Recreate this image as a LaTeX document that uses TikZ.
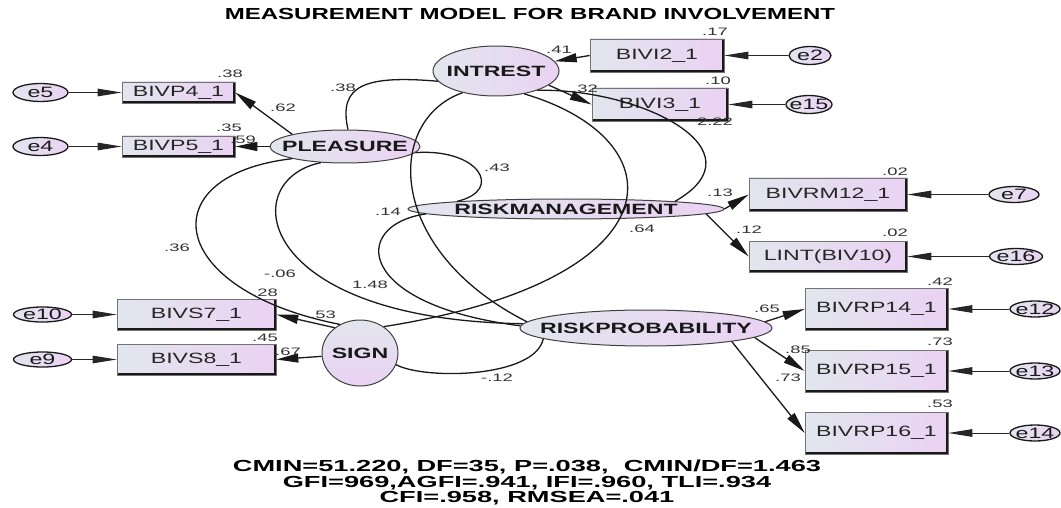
\documentclass[tikz,border=0pt]{standalone}
\usepackage{fontspec}
\setmainfont{Liberation Sans}
\newfontfamily\wfont[FakeStretch=1.7]{Liberation Sans}
\newfontfamily\vfont[FakeStretch=1.55]{Liberation Sans}
\newfontfamily\tfont[FakeStretch=1.5]{Liberation Sans}
\usetikzlibrary{arrows.meta,shapes.geometric}
\definecolor{cl}{RGB}{226,230,238}
\definecolor{cr}{RGB}{234,210,243}
\newcommand{\zb}[1]{\makebox[0pt]{#1}}
\begin{document}
\begin{tikzpicture}[x=1pt,y=-1pt,
 obs/.style={rectangle, draw=black!55, line width=0.6pt, left color=cl, right color=cr, inner sep=0pt,
   font=\vfont\fontsize{14.9}{16}\selectfont, text=black!85,
   path picture={\draw[line width=3.4pt,black!90] (path picture bounding box.north east) -- (path picture bounding box.south east) -- (path picture bounding box.south west);}},
 lat/.style={ellipse, draw=black!75, line width=1pt, left color=cl, right color=cr, inner sep=0pt,
   font=\vfont\bfseries\fontsize{14.9}{16}\selectfont, text=black!90},
 err/.style={ellipse, draw=black!90, line width=1.3pt, left color=cl, right color=cr, inner sep=0pt,
   font=\vfont\fontsize{15}{16}\selectfont, text=black!90},
 coef/.style={font=\wfont\fontsize{10.8}{11}\selectfont, inner sep=0pt, text=black!80},
 load/.style={line width=1.3pt, black!90, -{Triangle[length=22pt,width=9pt]}},
 eline/.style={line width=1pt, black!85, -{Triangle[length=24pt,width=7.5pt]}},
 cov/.style={line width=1.3pt, black!90},
]
\path[fill=white, use as bounding box] (0,0) rectangle (1061,508);

% title
\node[font=\tfont\bfseries\fontsize{16}{18}\selectfont] (title) at (530,14) {MEASUREMENT MODEL FOR BRAND INVOLVEMENT};

% observed variables
\node[obs, minimum width=113pt, minimum height=21pt] (p4) at (178.5,92.5) {BIVP4\_1};
\node[obs, minimum width=113pt, minimum height=21pt] (p5) at (178.5,146.5) {BIVP5\_1};
\node[obs, minimum width=134pt, minimum height=33pt] (i2) at (657,55.5) {BIVI2\_1};
\node[obs, minimum width=136pt, minimum height=33pt] (i3) at (660,104.5) {BIVI3\_1};
\node[obs, minimum width=158pt, minimum height=33pt] (rm12) at (828,194.5) {BIVRM12\_1};
\node[obs, minimum width=158pt, minimum height=31pt] (lint) at (828,256.5) {LINT(BIV10)};
\node[obs, minimum width=143pt, minimum height=42pt] (rp14) at (876.5,309) {BIVRP14\_1};
\node[obs, minimum width=143pt, minimum height=42pt] (rp15) at (876.5,371) {BIVRP15\_1};
\node[obs, minimum width=143pt, minimum height=42pt] (rp16) at (876.5,433) {BIVRP16\_1};
\node[obs, minimum width=159pt, minimum height=31pt] (s7) at (196.5,314.5) {BIVS7\_1};
\node[obs, minimum width=159pt, minimum height=31pt] (s8) at (196.5,359.5) {BIVS8\_1};

% latent variables
\node[lat, minimum width=126pt, minimum height=50pt] (in) at (496,71) {\zb{INTREST}};
\node[lat, minimum width=150pt, minimum height=33pt] (pl) at (345,146.5) {\zb{PLEASURE}};
\node[lat, minimum width=316pt, minimum height=20pt] (rm) at (566,209) {\zb{RISKMANAGEMENT}};
\node[lat, minimum width=252pt, minimum height=36pt] (rp) at (646,328) {\zb{RISKPROBABILITY}};
\node[lat, top color=cl, bottom color=cr, minimum width=76pt, minimum height=66pt] (sg) at (360,353) {\zb{SIGN}};

% error terms
\node[err, minimum width=55pt, minimum height=18pt] (e5) at (40.5,92.5) {\zb{e5}};
\node[err, minimum width=55pt, minimum height=18pt] (e4) at (40.5,146.5) {\zb{e4}};
\node[err, minimum width=42pt, minimum height=18pt] (e2) at (810,55.5) {\zb{e2}};
\node[err, minimum width=46pt, minimum height=18pt] (e15) at (809,104.5) {\zb{e15}};
\node[err, minimum width=50pt, minimum height=16pt] (e7) at (1014,194.5) {\zb{e7}};
\node[err, minimum width=53pt, minimum height=16pt] (e16) at (1016,256.5) {\zb{e16}};
\node[err, minimum width=50pt, minimum height=16pt] (e12) at (1035,309) {\zb{e12}};
\node[err, minimum width=50pt, minimum height=16pt] (e13) at (1035,371) {\zb{e13}};
\node[err, minimum width=50pt, minimum height=16pt] (e14) at (1035,433) {\zb{e14}};
\node[err, minimum width=58pt, minimum height=15pt] (e10) at (42.5,314.5) {\zb{e10}};
\node[err, minimum width=58pt, minimum height=15pt] (e9) at (42.5,359.5) {\zb{e9}};

% error arrows
\draw[eline] (e5) -- (p4);
\draw[eline] (e4) -- (p5);
\draw[eline] (e2) -- (i2);
\draw[eline] (e15) -- (i3);
\draw[eline] (e7) -- (rm12);
\draw[eline] (e16) -- (lint);
\draw[eline] (e12) -- (rp14);
\draw[eline] (e13) -- (rp15);
\draw[eline] (e14) -- (rp16);
\draw[eline] (e10) -- (s7);
\draw[eline] (e9) -- (s8);

% loadings
\draw[load] (pl.167) -- (p4.east);
\draw[load] (pl) -- (p5);
\draw[load] (i2.west) -- (in);
\draw[load] (in.345) -- (i3.west);
\draw[load] (rm.east) -- (rm12.west);
\draw[load] (rm.-2) -- (lint.west);
\draw[load] (rp.3) -- (rp14.west);
\draw[load] (rp.-5) -- (rp15.west);
\draw[load] (rp.-9) -- (rp16.west);
\draw[load] (sg.135) -- (s7.east);
\draw[load] (sg.185) -- (s8.east);

% covariances
\draw[cov] (pl.80) .. controls (338,85) and (365,75) .. (in.190);
\draw[cov] (pl.-5) .. controls (478,148) and (505,190) .. (rm.176);
\draw[cov] (in.335) .. controls (640,88) and (765,150) .. (rm.4);
\draw[cov] (in.321) .. controls (680,140) and (680,280) .. (sg.48);
\draw[cov] (in.213) .. controls (385,120) and (385,250) .. (rp.177);
\draw[cov] (rm.182) .. controls (350,225) and (355,305) .. (rp.179);
\draw[cov] (pl.193) .. controls (150,175) and (165,290) .. (sg.125);
\draw[cov] (pl.214) .. controls (235,180) and (255,320) .. (rp.178);
\draw[cov] (sg.-18) .. controls (425,380) and (535,378) .. (rp.186);

% coefficients
\node[coef] (k1) at (230,74) {.38};
\node[coef] (k2) at (229,128) {.35};
\node[coef] (k3) at (243,140) {.59};
\node[coef] (k4) at (283,108) {.62};
\node[coef] (k5) at (343,88) {.38};
\node[coef] (k6) at (559,50) {.41};
\node[coef] (k7) at (715,32) {.17};
\node[coef] (k8) at (585,89) {.32};
\node[coef] (k9) at (718,81) {.10};
\node[coef] (k10) at (715,122) {2.22};
\node[coef] (k11) at (497,168) {.43};
\node[coef] (k12) at (388,212) {.14};
\node[coef] (k13) at (642,229) {.64};
\node[coef] (k14) at (720,193) {.13};
\node[coef] (k15) at (749,230) {.12};
\node[coef] (k16) at (895,172) {.02};
\node[coef] (k17) at (895,233) {.02};
\node[coef] (k18) at (940,282) {.42};
\node[coef] (k19) at (940,342) {.73};
\node[coef] (k20) at (940,404) {.53};
\node[coef] (k21) at (767,309) {.65};
\node[coef] (k22) at (798,350) {.85};
\node[coef] (k23) at (788,378) {.73};
\node[coef] (k24) at (497,378) {-.12};
\node[coef] (k25) at (177,248) {.36};
\node[coef] (k26) at (280,274) {-.06};
\node[coef] (k27) at (370,285) {1.48};
\node[coef] (k28) at (265,293) {.28};
\node[coef] (k29) at (265,338) {.45};
\node[coef] (k30) at (323,315) {.53};
\node[coef] (k31) at (288,352) {.67};

% fit indices
\node[font=\wfont\bfseries\fontsize{16}{15.3}\selectfont, align=center, inner sep=0pt] (fit) at (527,482.5)
 {CMIN=51.220, DF=35, P=.038, \ CMIN/DF=1.463\\GFI=969,AGFI=.941, IFI=.960, TLI=.934\\CFI=.958, RMSEA=.041};
\end{tikzpicture}
\end{document}
